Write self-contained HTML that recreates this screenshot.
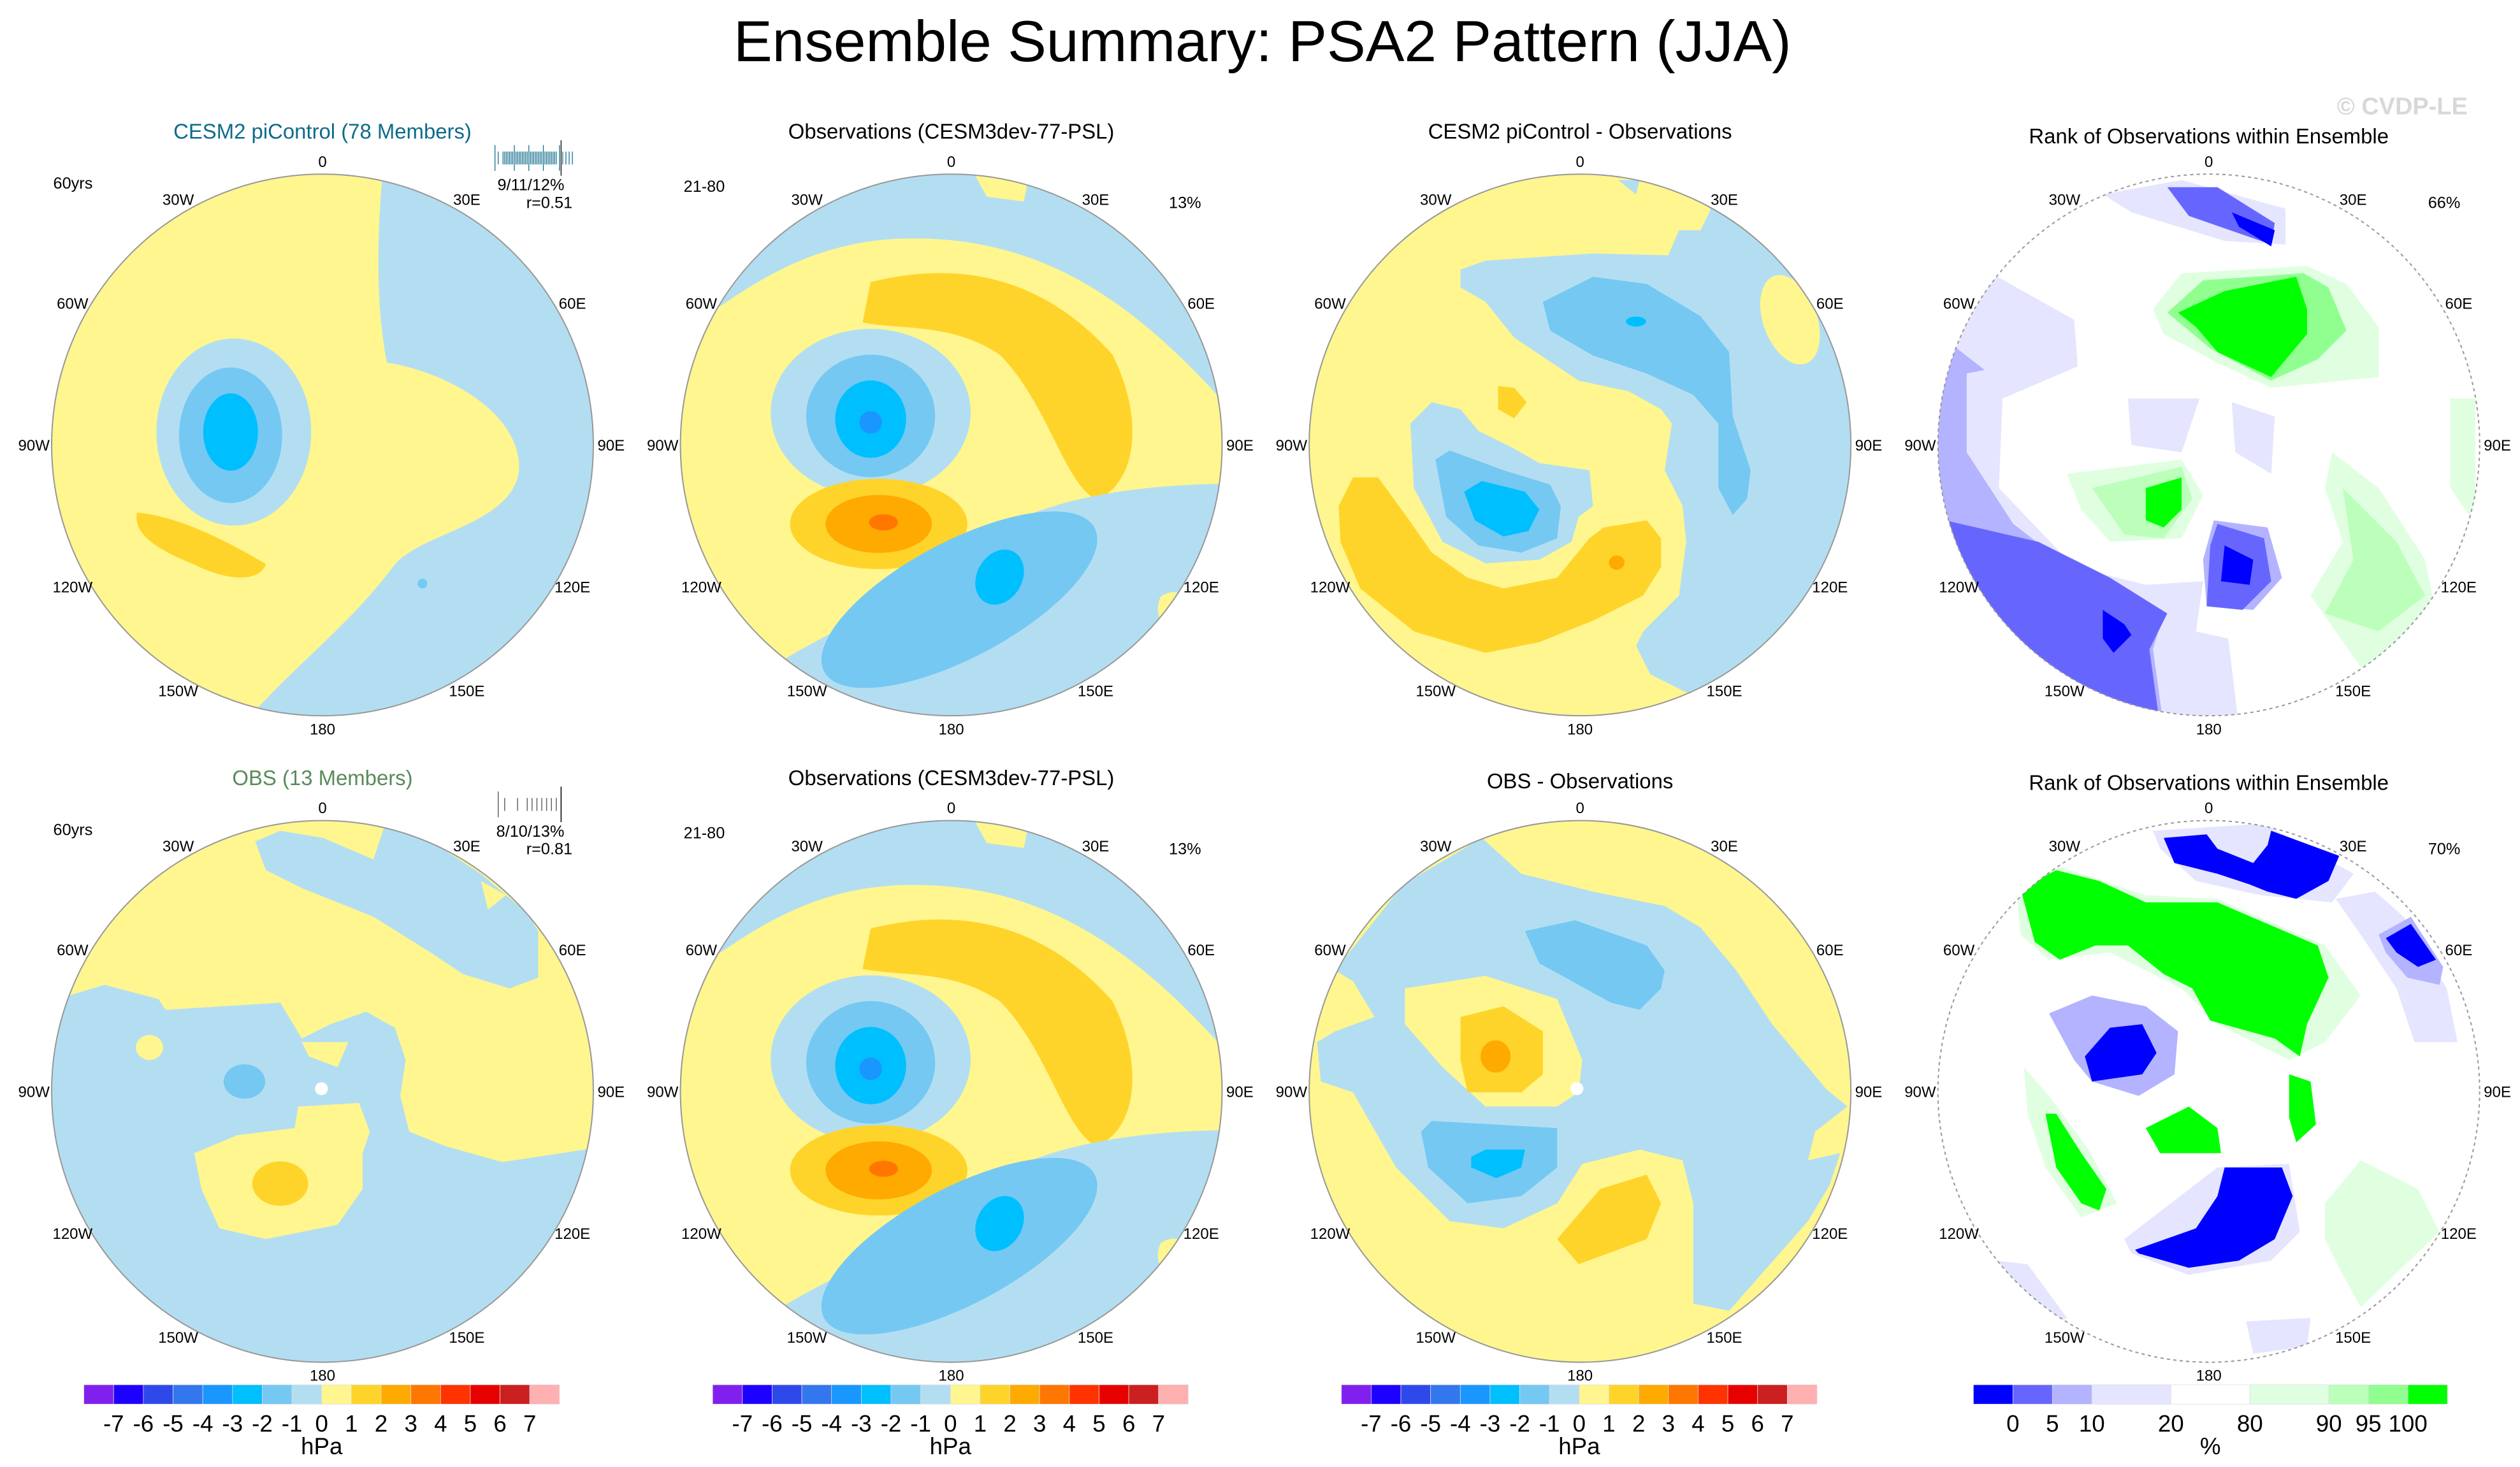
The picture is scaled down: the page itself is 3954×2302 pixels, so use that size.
<!DOCTYPE html>
<html><head><meta charset="utf-8"><style>
html,body{margin:0;padding:0;background:#fff;}
svg{display:block;font-family:"Liberation Sans",Arial,sans-serif;}
</style></head><body>
<svg id="fig" width="3954" height="2302" viewBox="0 0 1563 910" xmlns="http://www.w3.org/2000/svg">
<defs>
<clipPath id="c1"><circle cx="200" cy="276" r="168"/></clipPath>
<clipPath id="c2"><circle cx="590" cy="276" r="168"/></clipPath>
<clipPath id="c3"><circle cx="980" cy="276" r="168"/></clipPath>
<clipPath id="c4"><circle cx="1370" cy="276" r="168"/></clipPath>
<clipPath id="c5"><circle cx="200" cy="677" r="168"/></clipPath>
<clipPath id="c6"><circle cx="590" cy="677" r="168"/></clipPath>
<clipPath id="c7"><circle cx="980" cy="677" r="168"/></clipPath>
<clipPath id="c8"><circle cx="1370" cy="677" r="168"/></clipPath>
<g id="p2maps">
  <rect x="410" y="100" width="360" height="360" fill="#fff68f"/>
  <path d="M410,215 C450,190 490,150 560,148 C640,146 700,180 770,262 L770,100 L410,100 Z" fill="#b3def2"/>
  <path d="M600,100 L640,100 L635,125 L612,122 Z" fill="#fff68f"/>
  <path d="M540,175 C600,160 650,175 690,220 C710,260 705,300 680,310 C660,300 650,250 620,220 C590,200 560,205 535,200 Z" fill="#ffd42a"/>
  <ellipse cx="540" cy="256" rx="62" ry="52" fill="#b3def2"/>
  <ellipse cx="540" cy="258" rx="40" ry="38" fill="#75c8f2"/>
  <ellipse cx="540" cy="260" rx="22" ry="24" fill="#00bfff"/>
  <circle cx="540" cy="262" r="7" fill="#1a96ff"/>
  <ellipse cx="545" cy="325" rx="55" ry="28" fill="#ffd42a"/>
  <ellipse cx="545" cy="325" rx="33" ry="18" fill="#ffaa00"/>
  <ellipse cx="548" cy="324" rx="9" ry="5" fill="#ff7700"/>
  <path d="M450,440 C480,400 540,390 600,340 C640,310 700,300 770,300 L770,460 L450,460 Z" fill="#b3def2"/>
  <path d="M720,370 C735,360 745,380 735,395 C720,392 715,380 720,370 Z" fill="#fff68f"/>
  <ellipse cx="595" cy="372" rx="95" ry="36" transform="rotate(-28 595 372)" fill="#75c8f2"/>
  <ellipse cx="620" cy="358" rx="14" ry="18" transform="rotate(30 620 358)" fill="#00bfff"/>
  <ellipse cx="620" cy="280" rx="15" ry="30" fill="#fff68f"/>
</g>
</defs>

<text x="783" y="38" font-size="36" text-anchor="middle">Ensemble Summary: PSA2 Pattern (JJA)</text>
<text x="1490" y="71" font-size="15" fill="#d8d8d8" text-anchor="middle" font-weight="bold">© CVDP-LE</text>

<!-- Panel 1 -->
<g>
<g clip-path="url(#c1)">
  <rect x="20" y="100" width="360" height="360" fill="#fff68f"/>
  <path d="M238,100 C232,160 235,200 240,225 C275,230 322,255 322,290 C320,325 262,330 245,350 C215,390 185,410 150,450 L400,450 L400,100 Z" fill="#b3def2"/>
  <ellipse cx="145" cy="268" rx="48" ry="58" fill="#b3def2"/>
  <ellipse cx="143" cy="270" rx="32" ry="42" fill="#75c8f2"/>
  <ellipse cx="143" cy="268" rx="17" ry="24" fill="#00bfff"/>
  <path d="M85,318 C110,320 140,335 165,350 C160,362 140,360 120,350 C100,342 82,332 85,318 Z" fill="#ffd42a"/>
  <circle cx="262" cy="362" r="3" fill="#75c8f2"/>
</g>
<circle cx="200" cy="276" r="168" fill="none" stroke="#999" stroke-width="0.8"/>
<text x="200" y="86" font-size="13" fill="#0e6b8a" text-anchor="middle">CESM2 piControl (78 Members)</text>
<text x="33" y="117" font-size="10">60yrs</text>
<text x="350" y="118" font-size="10" text-anchor="end">9/11/12%</text>
<text x="355" y="129" font-size="10" text-anchor="end">r=0.51</text>
<g id="barcode1" stroke="#0e6b8a" stroke-width="0.5"></g>
</g>

<!-- Panel 2 -->
<g>
<g clip-path="url(#c2)"><use href="#p2maps"/></g>
<circle cx="590" cy="276" r="168" fill="none" stroke="#999" stroke-width="0.8"/>
<text x="590" y="86" font-size="13" text-anchor="middle">Observations (CESM3dev-77-PSL)</text>
<text x="424" y="119" font-size="10">21-80</text>
<text x="745" y="129" font-size="10" text-anchor="end">13%</text>
</g>

<!-- Panel 3 -->
<g>
<g clip-path="url(#c3)"><g transform="translate(810.3,102.8) scale(0.2222)">
  <rect x="0" y="0" width="1566" height="1566" fill="#fff68f"/>
  <path d="M1125,130 L1100,180 L1040,180 L1010,250 L800,245 L500,265 L430,290 L430,340 L500,380 L580,480 L700,560 L760,600 L900,630 L990,680 L1020,720 L1000,850 L1050,950 L1060,1050 L1040,1200 L940,1300 L920,1340 L960,1420 L1060,1470 L1566,1566 L1566,0 L1150,0 Z" fill="#b3def2"/>
  <path d="M870,40 L930,40 L920,80 Z" fill="#b3def2"/>
  <ellipse cx="1350" cy="430" rx="75" ry="130" transform="rotate(-20 1350 430)" fill="#fff68f"/>
  <path d="M660,380 L800,310 L950,330 L1100,420 L1180,520 L1190,700 L1240,850 L1230,930 L1190,975 L1150,900 L1150,720 L1080,640 L950,580 L800,530 L680,460 Z" fill="#75c8f2"/>
  <ellipse cx="920" cy="435" rx="28" ry="14" fill="#00bfff"/>
  <path d="M90,950 L130,870 L200,870 L280,980 L350,1080 L450,1150 L550,1180 L700,1150 L790,1040 L830,1010 L950,990 L990,1040 L990,1120 L940,1200 L800,1270 L650,1330 L500,1360 L300,1300 L150,1180 L95,1050 Z" fill="#ffd42a"/>
  <ellipse cx="866" cy="1108" rx="22" ry="20" fill="#ffaa00"/>
  <path d="M290,720 L350,660 L430,680 L480,740 L580,790 L650,830 L790,850 L800,950 L760,980 L740,1050 L650,1100 L500,1110 L380,1050 L300,900 Z" fill="#b3def2"/>
  <path d="M360,820 L400,795 L550,850 L680,890 L710,950 L700,1040 L600,1080 L480,1060 L390,980 Z" fill="#75c8f2"/>
  <path d="M440,910 L490,880 L610,910 L650,960 L620,1020 L550,1035 L470,990 Z" fill="#00bfff"/>
  <path d="M535,615 L580,620 L615,660 L580,705 L535,680 Z" fill="#ffd42a"/>
</g></g>
<circle cx="980" cy="276" r="168" fill="none" stroke="#999" stroke-width="0.8"/>
<text x="980" y="86" font-size="13" text-anchor="middle">CESM2 piControl - Observations</text>
</g>

<!-- Panel 4 -->
<g>
<g clip-path="url(#c4)"><g transform="translate(1197.6,102.8) scale(0.2222)">
  <rect x="0" y="0" width="1566" height="1566" fill="#ffffff"/>
  <path d="M150,290 L400,430 L410,560 L200,650 L190,900 L400,1120 L600,1170 L760,1160 L740,1300 L830,1320 L860,1566 L0,1566 L0,290 Z" fill="#e5e5ff"/>
  <path d="M480,80 L700,40 L990,120 L990,220 L820,210 L560,130 Z" fill="#e5e5ff"/>
  <path d="M550,650 L750,650 L700,800 L560,780 Z" fill="#e5e5ff"/>
  <path d="M840,660 L960,700 L950,860 L850,800 Z" fill="#e5e5ff"/>
  <path d="M60,500 L150,570 L100,580 L100,800 L230,1000 L400,1130 L650,1250 L620,1350 L650,1566 L0,1566 L0,500 Z" fill="#b3b3ff"/>
  <path d="M40,990 L300,1050 L500,1150 L660,1250 L610,1350 L640,1566 L0,1566 L0,990 Z" fill="#6666ff"/>
  <path d="M480,1240 L540,1280 L560,1310 L510,1360 L480,1320 Z" fill="#0000ff"/>
  <path d="M660,60 L800,60 L960,160 L950,220 L720,140 Z" fill="#6666ff"/>
  <path d="M840,130 L960,180 L950,225 L860,170 Z" fill="#0000ff"/>
  <path d="M790,990 L940,1010 L980,1150 L900,1240 L770,1230 L760,1100 Z" fill="#b3b3ff"/>
  <path d="M800,1000 L930,1040 L950,1160 L870,1240 L770,1230 L780,1060 Z" fill="#6666ff"/>
  <path d="M820,1060 L900,1100 L890,1170 L810,1160 Z" fill="#0000ff"/>
  <path d="M620,400 L700,300 L1050,280 L1160,330 L1250,450 L1250,590 L950,620 L800,550 L650,470 Z" fill="#e0ffe0"/>
  <path d="M660,410 L760,320 L1040,300 L1110,340 L1160,460 L1080,540 L950,600 L780,510 Z" fill="#90ff90"/>
  <path d="M690,410 L820,350 L1020,310 L1050,400 L1050,470 L950,590 L800,520 L740,450 Z" fill="#00ff00"/>
  <path d="M380,860 L700,820 L760,920 L700,1040 L500,1050 L420,960 Z" fill="#e0ffe0"/>
  <path d="M450,900 L700,840 L730,930 L650,1040 L540,1030 Z" fill="#bbffbb"/>
  <path d="M600,900 L700,870 L700,960 L650,1010 L600,990 Z" fill="#00ff00"/>
  <path d="M1120,800 L1250,900 L1380,1100 L1420,1300 L1200,1400 L1060,1200 L1150,1050 L1100,900 Z" fill="#e0ffe0"/>
  <path d="M1450,650 L1520,650 L1520,1000 L1450,900 Z" fill="#e0ffe0"/>
  <path d="M1150,900 L1300,1050 L1380,1200 L1250,1300 L1100,1250 L1180,1100 Z" fill="#bbffbb"/>
</g></g>
<circle cx="1370" cy="276" r="168" fill="none" stroke="#999" stroke-width="0.8" stroke-dasharray="2,2"/>
<text x="1370" y="89" font-size="13" text-anchor="middle">Rank of Observations within Ensemble</text>
<text x="1526" y="129" font-size="10" text-anchor="end">66%</text>
</g>

<!-- Panel 5 -->
<g>
<g clip-path="url(#c5)"><g transform="translate(31.6,502) scale(0.2222)">
  <rect x="0" y="0" width="1566" height="1566" fill="#b3def2"/>
  <path d="M0,0 L1566,0 L1566,950 L1490,950 L1260,985 L1100,940 L1000,900 L975,800 L990,700 L960,610 L880,565 L780,600 L700,640 L640,540 L320,560 L300,530 L150,490 L50,520 L0,525 Z" fill="#fff68f"/>
  <path d="M570,90 L640,60 L760,80 L900,140 L930,50 L1000,50 L1200,180 L1330,290 L1360,340 L1360,470 L1280,500 L1150,460 L1060,400 L900,300 L700,220 L600,170 Z" fill="#b3def2"/>
  <path d="M1200,200 L1270,240 L1220,280 Z" fill="#fff68f"/>
  <path d="M150,490 L300,540 L220,580 L160,540 Z" fill="#b3def2"/>
  <ellipse cx="275" cy="665" rx="38" ry="35" fill="#fff68f"/>
  <path d="M700,650 L830,650 L800,720 L720,690 Z" fill="#fff68f"/>
  <path d="M400,960 L520,910 L680,890 L690,830 L860,820 L890,900 L870,960 L870,1060 L800,1160 L600,1200 L470,1170 L420,1060 Z" fill="#fff68f"/>
  <ellipse cx="640" cy="1045" rx="78" ry="62" fill="#ffd42a"/>
  <ellipse cx="540" cy="760" rx="58" ry="48" fill="#75c8f2"/>
  <circle cx="755" cy="780" r="18" fill="#ffffff"/>
</g></g>
<circle cx="200" cy="677" r="168" fill="none" stroke="#999" stroke-width="0.8"/>
<text x="200" y="487" font-size="13" fill="#5a8a5a" text-anchor="middle">OBS (13 Members)</text>
<text x="33" y="518" font-size="10">60yrs</text>
<text x="350" y="519" font-size="10" text-anchor="end">8/10/13%</text>
<text x="355" y="530" font-size="10" text-anchor="end">r=0.81</text>
<g id="barcode2" stroke="#666" stroke-width="0.6"></g>
</g>

<!-- Panel 6 -->
<g>
<g clip-path="url(#c6)"><use href="#p2maps" transform="translate(0,401)"/></g>
<circle cx="590" cy="677" r="168" fill="none" stroke="#999" stroke-width="0.8"/>
<text x="590" y="487" font-size="13" text-anchor="middle">Observations (CESM3dev-77-PSL)</text>
<text x="424" y="520" font-size="10">21-80</text>
<text x="745" y="530" font-size="10" text-anchor="end">13%</text>
</g>

<!-- Panel 7 -->
<g>
<g clip-path="url(#c7)"><g transform="translate(810.3,502) scale(0.2222)">
  <rect x="0" y="0" width="1566" height="1566" fill="#fff68f"/>
  <path d="M490,80 L600,180 L800,230 L1000,270 L1100,330 L1200,450 L1300,600 L1450,780 L1510,830 L1420,900 L1400,980 L1490,960 L1460,1050 L1400,1150 L1180,1400 L1080,1380 L1080,1100 L1050,980 L930,950 L770,990 L700,1100 L550,1170 L400,1150 L250,1000 L130,790 L40,760 L30,650 L80,620 L190,580 L130,480 L80,450 L270,210 Z" fill="#b3def2"/>
  <path d="M275,500 L500,465 L700,530 L770,700 L760,790 L700,830 L500,830 L380,720 L275,600 Z" fill="#fff68f"/>
  <path d="M430,580 L550,550 L660,620 L660,740 L600,790 L450,790 L430,700 Z" fill="#ffd42a"/>
  <ellipse cx="528" cy="690" rx="42" ry="45" fill="#ffaa00"/>
  <path d="M610,340 L750,310 L950,380 L1000,450 L990,500 L930,560 L850,540 L650,430 Z" fill="#75c8f2"/>
  <path d="M320,900 L350,870 L700,890 L700,1000 L600,1080 L450,1100 L340,1000 Z" fill="#75c8f2"/>
  <path d="M460,970 L500,950 L610,950 L600,1000 L530,1030 L460,1000 Z" fill="#00bfff"/>
  <path d="M700,1200 L820,1060 L950,1020 L990,1100 L950,1200 L760,1270 Z" fill="#ffd42a"/>
  <circle cx="755" cy="780" r="18" fill="#ffffff"/>
</g></g>
<circle cx="980" cy="677" r="168" fill="none" stroke="#999" stroke-width="0.8"/>
<text x="980" y="489" font-size="13" text-anchor="middle">OBS - Observations</text>
</g>

<!-- Panel 8 -->
<g>
<g clip-path="url(#c8)"><g transform="translate(1197.6,502) scale(0.2222)">
  <rect x="0" y="0" width="1566" height="1566" fill="#ffffff"/>
  <path d="M620,60 L930,40 L1180,180 L1120,260 L920,240 L740,200 L640,110 Z" fill="#e5e5ff"/>
  <path d="M650,80 L770,70 L800,110 L900,150 L940,100 L950,60 L1140,130 L1110,200 L1020,250 L940,230 L890,210 L800,180 L680,150 Z" fill="#0000ff"/>
  <path d="M1130,250 L1240,230 L1320,300 L1440,500 L1470,650 L1350,650 L1300,500 L1200,350 Z" fill="#e5e5ff"/>
  <path d="M1250,350 L1340,300 L1430,440 L1420,490 L1330,470 L1270,400 Z" fill="#b3b3ff"/>
  <path d="M1270,360 L1340,320 L1410,420 L1360,440 L1300,400 Z" fill="#0000ff"/>
  <path d="M240,230 L360,160 L600,240 L800,250 L1100,380 L1200,520 L1100,650 L1000,700 L800,600 L700,500 L500,400 L330,420 L250,350 Z" fill="#e0ffe0"/>
  <path d="M250,220 L350,170 L470,200 L600,260 L800,260 L1080,380 L1110,470 L1050,600 L1030,690 L960,640 L780,590 L730,500 L650,460 L550,380 L460,380 L360,420 L290,370 Z" fill="#00ff00"/>
  <path d="M330,570 L450,520 L600,550 L690,620 L680,740 L580,800 L450,760 L400,700 Z" fill="#b3b3ff"/>
  <path d="M430,690 L500,610 L590,600 L630,680 L590,740 L450,760 Z" fill="#0000ff"/>
  <path d="M260,720 L330,800 L440,950 L520,1100 L420,1140 L320,1000 L270,850 Z" fill="#e0ffe0"/>
  <path d="M320,850 L350,850 L420,960 L490,1060 L470,1120 L420,1100 L350,1000 L330,900 Z" fill="#00ff00"/>
  <path d="M600,890 L720,830 L800,890 L810,960 L640,960 Z" fill="#00ff00"/>
  <path d="M1000,740 L1060,760 L1075,880 L1020,930 L1000,860 Z" fill="#00ff00"/>
  <path d="M540,1200 L800,1000 L1000,990 L1030,1180 L950,1260 L720,1300 L560,1240 Z" fill="#e5e5ff"/>
  <path d="M570,1230 L740,1170 L800,1080 L820,1000 L980,1000 L1010,1080 L960,1200 L860,1260 L720,1280 L580,1240 Z" fill="#0000ff"/>
  <path d="M1100,1100 L1200,980 L1360,1060 L1420,1180 L1200,1390 L1150,1300 L1100,1200 Z" fill="#e0ffe0"/>
  <path d="M180,1260 L270,1270 L380,1420 L340,1440 Z" fill="#e5e5ff"/>
  <path d="M880,1430 L1060,1420 L1050,1500 L900,1520 Z" fill="#e5e5ff"/>
</g></g>
<circle cx="1370" cy="677" r="168" fill="none" stroke="#999" stroke-width="0.8" stroke-dasharray="2,2"/>
<text x="1370" y="490" font-size="13" text-anchor="middle">Rank of Observations within Ensemble</text>
<text x="1526" y="530" font-size="10" text-anchor="end">70%</text>
</g>

<g id="lonlabels"></g>
<g id="colorbars"></g>
</svg>
<script>
const NS = "http://www.w3.org/2000/svg";
const lonLabels = ['0','30E','60E','90E','120E','150E','180','150W','120W','90W','60W','30W'];
const centersX = [200,590,980,1370];
const centersY = [276,677];
const hpaLabels = ['-7','-6','-5','-4','-3','-2','-1','0','1','2','3','4','5','6','7'];
const hpaColors = ['#8120ee','#1e00ff','#2e49ea','#3377ee','#1a96ff','#00bfff','#75c8f2','#b3def2','#fff68f','#ffd42a','#ffaa00','#ff7700','#ff3300','#e60000','#cc1f1f','#ffb0b0'];
const rankLabels = ['0','5','10','20','80','90','95','100'];
const rankColors = ['#0000ff','#6666ff','#b3b3ff','#e5e5ff','#ffffff','#e0ffe0','#bbffbb','#90ff90','#00ff00'];
const rankWidths = [1,1,1,2,2,2,1,1,1];
const hist1 = [-24,-22,-19,-18,-17,-16,-15,-14,-13,-12,-11,-10,-9,-8,-7,-6,-5,-4,-3,-2,-1,0,1,2,3,4,5,6,7,8,9,10,11,12,13,14,16,18,20,22,24];
const hist2 = [-22,-18,-10,-4,-1,2,5,8,11,14];

const lg = document.getElementById('lonlabels');
centersY.forEach(cy => centersX.forEach(cx => {
  lonLabels.forEach((lab, i) => {
    const a = i * 30 * Math.PI / 180;
    const t = document.createElementNS(NS, 'text');
    t.setAttribute('x', cx + 179 * Math.sin(a));
    t.setAttribute('y', cy - 176 * Math.cos(a) + 3.5);
    t.setAttribute('font-size', '9.5');
    t.setAttribute('text-anchor', 'middle');
    
    
    t.textContent = lab;
    lg.appendChild(t);
  });
}));

function barcode(id, vals, x0, y0, tallEvery) {
  const g = document.getElementById(id);
  vals.forEach((v, i) => {
    const l = document.createElementNS(NS, 'line');
    const x = x0 + v;
    const h = (i % tallEvery === 0) ? 8 : 4;
    l.setAttribute('x1', x); l.setAttribute('x2', x);
    l.setAttribute('y1', y0 - h); l.setAttribute('y2', y0 + h);
    
    
    g.appendChild(l);
  });
  const m = document.createElementNS(NS, 'line');
  m.setAttribute('x1', x0 + 17); m.setAttribute('x2', x0 + 17);
  m.setAttribute('y1', y0 - 11); m.setAttribute('y2', y0 + 11);
  m.setAttribute('stroke', '#000');
  
  
  g.appendChild(m);
}
barcode('barcode1', hist1, 331, 98, 9);
barcode('barcode2', hist2, 331, 499, 99);

const cb = document.getElementById('colorbars');
function colorbar(x0, x1, y0, colors, widths, labels, unit) {
  const total = widths.reduce((a, b) => a + b, 0);
  const W = x1 - x0;
  let acc = 0;
  colors.forEach((c, i) => {
    const r = document.createElementNS(NS, 'rect');
    r.setAttribute('x', x0 + W * acc / total);
    r.setAttribute('y', y0);
    r.setAttribute('width', W * widths[i] / total);
    r.setAttribute('height', 12);
    r.setAttribute('fill', c);
    r.setAttribute('stroke', '#ddd');
    r.setAttribute('stroke-width', '0.3');
    
    
    cb.appendChild(r);
    acc += widths[i];
    if (i < labels.length) {
      const t = document.createElementNS(NS, 'text');
      t.setAttribute('x', x0 + W * acc / total);
      t.setAttribute('y', y0 + 29);
      t.setAttribute('font-size', '14.5');
      t.setAttribute('text-anchor', 'middle');
      
      
      t.textContent = labels[i];
      cb.appendChild(t);
    }
  });
  const u = document.createElementNS(NS, 'text');
  u.setAttribute('x', (x0 + x1) / 2);
  u.setAttribute('y', y0 + 43);
  u.setAttribute('font-size', '14.5');
  u.setAttribute('text-anchor', 'middle');
  
  
  u.textContent = unit;
  cb.appendChild(u);
}
const ones = hpaColors.map(() => 1);
colorbar(52, 347, 859, hpaColors, ones, hpaLabels, 'hPa');
colorbar(442, 737, 859, hpaColors, ones, hpaLabels, 'hPa');
colorbar(832, 1127, 859, hpaColors, ones, hpaLabels, 'hPa');
colorbar(1224, 1518, 859, rankColors, rankWidths, rankLabels, '%');
</script>
</body></html>
